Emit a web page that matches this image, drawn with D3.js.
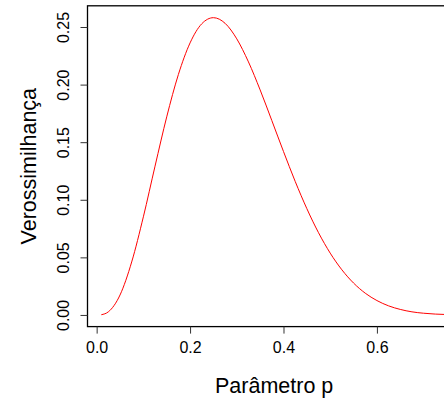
<!DOCTYPE html>
<html>
<head>
<meta charset="utf-8">
<script src="https://cdn.jsdelivr.net/npm/d3@7"></script>
<style>
  body { margin: 0; background: #fff; }
  svg { display: block; font-family: "Liberation Sans", Arial, sans-serif; }
</style>
</head>
<body>
<div id="chart"></div>
<script>
// likelihood values
const pValues = [0.01, 0.025, 0.05, 0.075, 0.1, 0.125, 0.15, 0.175, 0.2, 0.225, 0.25,
  0.275, 0.3, 0.325, 0.35, 0.375, 0.4, 0.425, 0.45, 0.475, 0.5, 0.525, 0.55,
  0.575, 0.6, 0.625, 0.65, 0.675, 0.7, 0.725, 0.75];
const likValues = [0.0002, 0.0027, 0.0173, 0.046, 0.0852, 0.1292, 0.172, 0.2088, 0.2362, 0.2528, 0.2581,
  0.2532, 0.2397, 0.2197, 0.1954, 0.1688, 0.1419, 0.116, 0.0923, 0.0714, 0.0537, 0.0392, 0.0277,
  0.0189, 0.0125, 0.0079, 0.0048, 0.0027, 0.0015, 0.00075, 0.00035];
const xTicks = [0, 0.2, 0.4, 0.6];
const yTicks = [0, 0.05, 0.10, 0.15, 0.20, 0.25];

const W = 444, H = 401;
const plot = { left: 87.5, right: 460.8, top: 5.8, bottom: 326.6 };

const data = pValues.map((p, i) => ({ p: p, l: likValues[i] }));

// R style 4% padding round the data range
function padded(ext) {
  const d = (ext[1] - ext[0]) * 0.04;
  return [ext[0] - d, ext[1] + d];
}

const x = d3.scaleLinear()
  .domain(padded(d3.extent(pValues)))
  .range([plot.left, plot.right]);
const y = d3.scaleLinear()
  .domain(padded(d3.extent(likValues)))
  .range([plot.bottom, plot.top]);

const svg = d3.select('#chart')
  .append('svg')
  .attr('width', W)
  .attr('height', H);

svg.append('defs').append('clipPath')
  .attr('id', 'clip')
  .append('rect')
  .attr('x', plot.left).attr('y', plot.top)
  .attr('width', plot.right - plot.left)
  .attr('height', plot.bottom - plot.top);

// curve
const line = d3.line()
  .x(d => x(d.p))
  .y(d => y(d.l))
  .curve(d3.curveMonotoneX);

svg.append('path')
  .datum(data)
  .attr('clip-path', 'url(#clip)')
  .attr('d', line)
  .attr('fill', 'none')
  .attr('stroke', '#ff0000')
  .attr('stroke-width', 1);

// box
svg.append('rect')
  .attr('x', plot.left).attr('y', plot.top)
  .attr('width', plot.right - plot.left)
  .attr('height', plot.bottom - plot.top)
  .attr('fill', 'none')
  .attr('stroke', '#000')
  .attr('stroke-width', 1.3);

// axes
const xAxis = d3.axisBottom(x)
  .tickValues(xTicks)
  .tickSize(7)
  .tickPadding(8)
  .tickFormat(d3.format('.1f'));
const yAxis = d3.axisLeft(y)
  .tickValues(yTicks)
  .tickSize(7)
  .tickPadding(0)
  .tickFormat(d3.format('.2f'));

const gx = svg.append('g')
  .attr('transform', `translate(0, ${plot.bottom})`)
  .call(xAxis);
gx.select('.domain').attr('stroke', 'none');
gx.selectAll('text')
  .attr('font-size', 16)
  .attr('font-family', '"Liberation Sans", Arial, sans-serif')
  .attr('fill', '#000');

const gy = svg.append('g')
  .attr('transform', `translate(${plot.left}, 0)`)
  .call(yAxis);
gy.select('.domain').attr('stroke', 'none');
gy.selectAll('text')
  .attr('font-size', 16)
  .attr('font-family', '"Liberation Sans", Arial, sans-serif')
  .attr('fill', '#000')
  .attr('x', null).attr('dy', null)
  .attr('text-anchor', 'middle')
  .attr('dominant-baseline', 'central')
  .attr('transform', 'translate(-24,0) rotate(-90)');
svg.selectAll('.tick line').attr('stroke', '#333');

// axis titles
svg.append('text')
  .text('Parâmetro p')
  .attr('x', (plot.left + plot.right) / 2)
  .attr('y', 393)
  .attr('text-anchor', 'middle')
  .style('font-size', '21.5px');

svg.append('text')
  .text('Verossimilhança')
  .attr('transform', `translate(35.5, ${(plot.top + plot.bottom) / 2}) rotate(-90)`)
  .attr('text-anchor', 'middle')
  .style('font-size', '21.5px');
</script>
</body>
</html>
